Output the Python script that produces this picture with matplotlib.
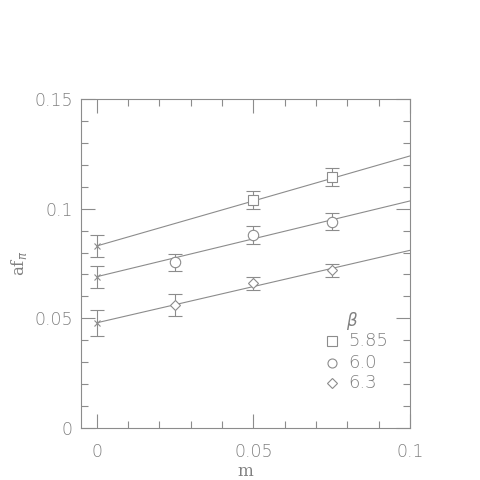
import numpy as np
import matplotlib.pyplot as plt

# data
beta = ["5.85", "6.0", "6.3"]
m_585 = [0.05, 0.075]
f_585 = [0.104, 0.1143]
e_585 = [0.004, 0.004]

m_60 = [0.025, 0.05, 0.075]
f_60 = [0.0755, 0.088, 0.0941]
e_60 = [0.004, 0.004, 0.004]

m_63 = [0.025, 0.05, 0.075]
f_63 = [0.0561, 0.066, 0.072]
e_63 = [0.005, 0.003, 0.003]

# chiral extrapolation at m = 0
f_chiral = [0.083, 0.069, 0.048]
e_chiral = [0.005, 0.005, 0.006]

# linear fits: value at m = 0 and at m = 0.1
fit_start = [0.083, 0.069, 0.048]
fit_end = [0.124, 0.1035, 0.081]

grey = "#8c8c8c"
tgrey = "#808080"

fig = plt.figure(figsize=(4.8, 4.8), dpi=100)
ax = fig.add_axes([0.169, 0.108, 0.685, 0.686])

mx = np.array([0.0, 0.1])
for a, b in zip(fit_start, fit_end):
    ax.plot(mx, [a, b], color=grey, lw=0.8)

eb = dict(color=grey, ecolor=grey, elinewidth=0.8, capsize=5, capthick=0.8,
          ls="none", mfc="white", mew=0.8)
ax.errorbar(m_585, f_585, yerr=e_585, marker="s", ms=7, **eb)
ax.errorbar(m_60, f_60, yerr=e_60, marker="o", ms=7.5, **eb)
ax.errorbar(m_63, f_63, yerr=e_63, marker="D", ms=5.5, **eb)
ax.errorbar([0, 0, 0], f_chiral, yerr=e_chiral, marker="x", ms=5, **eb)

ax.set_xlim(-0.005, 0.1)
ax.set_ylim(0, 0.15)
ax.set_xticks([0, 0.05, 0.1])
ax.set_xticklabels(["0", "0.05", "0.1"])
ax.set_yticks([0, 0.05, 0.1, 0.15])
ax.set_yticklabels(["0", "0.05", "0.1", "0.15"])
ax.set_xticks(np.arange(0, 0.101, 0.01), minor=True)
ax.set_yticks(np.arange(0, 0.151, 0.01), minor=True)
ax.tick_params(which="both", direction="in", top=True, right=True,
               color=grey, labelcolor=tgrey, labelsize=12.5, width=0.8)
ax.tick_params(which="major", length=10)
ax.tick_params(axis="y", which="major", pad=6)
ax.tick_params(axis="x", which="major", pad=11)
ax.tick_params(which="minor", length=5)
for lab in ax.get_xticklabels() + ax.get_yticklabels():
    lab.set_fontweight(200)
for s in ax.spines.values():
    s.set_color(grey)
    s.set_linewidth(0.8)

ax.set_xlabel("m", color=tgrey, fontsize=12, family="DejaVu Serif",
              labelpad=1)
ax.set_ylabel(r"af$_\pi$", color=tgrey, fontsize=12, family="DejaVu Serif",
              labelpad=4)

# legend
ax.text(0.0815, 0.0489, r"$\beta$", color=tgrey, fontsize=12, ha="center",
        va="center")
leg_marks = ["s", "o", "D"]
leg_ms = [6.5, 6.5, 5]
leg_y = [0.0398, 0.0298, 0.0204]
for lab, mk, ms, y in zip(beta, leg_marks, leg_ms, leg_y):
    ax.plot([0.075], [y], marker=mk, ms=ms, mfc="white", mec=grey,
            mew=0.8, ls="none")
    ax.text(0.0802, y, lab, color=tgrey, fontsize=13, va="center",
            fontweight=200)

fig.savefig("out.png", dpi=100)
